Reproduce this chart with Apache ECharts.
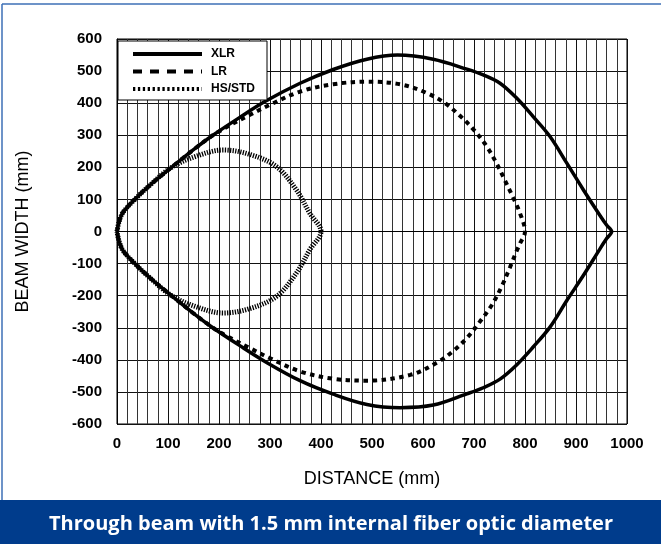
<!DOCTYPE html>
<html>
<head>
<meta charset="utf-8">
<script src="https://cdn.jsdelivr.net/npm/echarts@6/dist/echarts.min.js"></script>
<style>
html,body{margin:0;padding:0;background:#fff;}
#c{width:661px;height:544px;}
</style>
</head>
<body>
<div id="c"></div>
<script>
// ---- Data ----
const xTicks = [0, 100, 200, 300, 400, 500, 600, 700, 800, 900, 1000];
const yTicks = [-600, -500, -400, -300, -200, -100, 0, 100, 200, 300, 400, 500, 600];
const seriesNames = ['XLR', 'LR', 'HS/STD'];

// XLR: upper half (left to right) and lower half (right to left)
const xlrTopX = [0, 4, 12, 35, 65, 107, 150, 188, 240, 290, 359, 424, 490, 550, 620, 686, 718, 751, 784, 816, 849, 882, 914, 947, 960, 970];
const xlrTopY = [0, 30, 60, 100, 145, 200, 255, 300, 355, 405, 462, 505, 537, 550, 537, 506, 488, 462, 415, 358, 296, 213, 131, 50, 20, 0];
const xlrBotX = [960, 947, 914, 882, 849, 816, 784, 751, 718, 686, 620, 555, 490, 424, 359, 290, 240, 188, 150, 107, 65, 35, 12, 4, 0];
const xlrBotY = [-22, -54, -138, -215, -298, -360, -415, -460, -487, -506, -541, -549, -539, -507, -465, -405, -355, -300, -255, -200, -145, -100, -60, -30, 0];

// LR
const lrTopX = [0, 4, 12, 35, 65, 107, 150, 188, 220, 260, 300, 359, 424, 490, 555, 607, 643, 673, 699, 725, 745, 761, 777, 790, 800];
const lrTopY = [0, 30, 60, 100, 145, 200, 255, 300, 330, 363, 395, 436, 459, 467, 459, 432, 400, 360, 318, 265, 210, 158, 105, 58, 0];
const lrBotX = [790, 784, 771, 754, 735, 712, 686, 659, 627, 575, 490, 424, 359, 300, 260, 220, 188, 150, 107, 65, 35, 12, 4, 0];
const lrBotY = [-38, -59, -110, -172, -229, -280, -332, -373, -409, -447, -465, -459, -436, -395, -363, -330, -300, -255, -200, -145, -100, -60, -30, 0];

// HS/STD
const hsTopX = [0, 4, 12, 35, 65, 107, 156, 208, 261, 313, 352, 378, 400];
const hsTopY = [0, 30, 60, 100, 145, 200, 235, 254, 240, 202, 129, 57, 0];
const hsBotX = [378, 352, 313, 261, 208, 156, 107, 65, 35, 12, 4, 0];
const hsBotY = [-57, -129, -202, -240, -254, -235, -200, -145, -100, -60, -30, 0];

const xAxisTitle = 'DISTANCE (mm)';
const yAxisTitle = 'BEAM WIDTH (mm)';
const bannerText = 'Through beam with 1.5 mm internal fiber optic diameter';

function loop(tx, ty, bx, by) {
  const pts = [];
  for (let i = 0; i < tx.length; i++) pts.push([tx[i], ty[i]]);
  for (let i = 0; i < bx.length; i++) pts.push([bx[i], by[i]]);
  return pts;
}

const chart = echarts.init(document.getElementById('c'), null, {renderer: 'canvas'});
const font = "'Liberation Sans', Arial, sans-serif";
const clear = 'rgba(0,0,0,0)';

chart.setOption({
  animation: false,
  backgroundColor: '#fff',
  grid: {left: 117, right: 34, top: 39, bottom: 120, show: true, borderColor: '#000', borderWidth: 1, containLabel: false},
  legend: {
    orient: 'vertical',
    left: 118, top: 41,
    padding: [7, 12, 5, 13],
    itemGap: 5.5,
    itemWidth: 69,
    itemHeight: 12,
    backgroundColor: '#fff',
    borderColor: '#000',
    borderWidth: 1,
    itemStyle: {opacity: 0},
    data: [
      {name: seriesNames[0], lineStyle: {width: 4, type: 'solid', color: '#000'}},
      {name: seriesNames[1], lineStyle: {width: 4, type: [9, 8], color: '#000'}},
      {name: seriesNames[2], lineStyle: {width: 4, type: [2.3, 2.6], color: '#000'}}
    ],
    textStyle: {fontFamily: font, fontWeight: 'bold', fontSize: 12, color: '#000', padding: [0, 0, 0, 4]}
  },
  xAxis: {
    type: 'value', min: 0, max: 1000, interval: 100,
    name: xAxisTitle, nameLocation: 'middle', nameGap: 46,
    nameTextStyle: {fontFamily: font, fontSize: 18, color: '#000'},
    axisLine: {show: true, lineStyle: {color: '#000'}},
    axisTick: {show: false},
    axisLabel: {fontFamily: font, fontWeight: 'bold', fontSize: 15, color: '#000', margin: 12,
      formatter: v => String(xTicks[Math.round(v / 100)] ?? v)},
    splitLine: {show: true, lineStyle: {color: '#111', width: 1}},
    minorTick: {show: false, splitNumber: 5},
    minorSplitLine: {show: true, lineStyle: {color: '#333', width: 1}}
  },
  yAxis: {
    type: 'value', min: -600, max: 600, interval: 100,
    name: yAxisTitle, nameLocation: 'middle', nameGap: 85, nameRotate: 90,
    nameTextStyle: {fontFamily: font, fontSize: 18, color: '#000'},
    axisLine: {show: true, onZero: false, lineStyle: {color: '#000'}},
    axisTick: {show: false},
    axisLabel: {fontFamily: font, fontWeight: 'bold', fontSize: 15, color: '#000', margin: 15,
      formatter: v => String(yTicks[Math.round((v + 600) / 100)] ?? v)},
    splitLine: {show: true, lineStyle: {color: '#111', width: 1}}
  },
  series: [
    {name: 'XLR', type: 'line', data: loop(xlrTopX, xlrTopY, xlrBotX, xlrBotY), smooth: 0.35,
      symbol: 'none', itemStyle: {color: clear}, lineStyle: {color: '#000', width: 3.5, type: 'solid'}, z: 3},
    {name: 'LR', type: 'line', data: loop(lrTopX, lrTopY, lrBotX, lrBotY), smooth: 0.35,
      symbol: 'none', itemStyle: {color: clear}, lineStyle: {color: '#000', width: 4, type: [4.5, 4.5]}, z: 4},
    {name: 'HS/STD', type: 'line', data: loop(hsTopX, hsTopY, hsBotX, hsBotY), smooth: 0.35,
      symbol: 'none', itemStyle: {color: clear}, lineStyle: {color: '#000', width: 5, type: [1.3, 1.3]}, z: 5}
  ],
  graphic: [
    {type: 'rect', shape: {x: 0, y: 500, width: 661, height: 44}, style: {fill: '#003c8c'}, z: 10},
    {type: 'line', shape: {x1: 2, y1: 4, x2: 661, y2: 4}, style: {stroke: '#3d6fb6', lineWidth: 1.5}, z: 10},
    {type: 'line', shape: {x1: 2, y1: 4, x2: 2, y2: 500}, style: {stroke: '#3d6fb6', lineWidth: 1.5}, z: 10},
    {type: 'text', x: 331, y: 524, style: {text: bannerText, fill: '#fff', fontFamily: "'Open Sans', 'Noto Sans', sans-serif",
      fontWeight: 'bold', fontSize: 20, align: 'center', verticalAlign: 'middle'}, z: 11}
  ]
});
</script>
</body>
</html>
